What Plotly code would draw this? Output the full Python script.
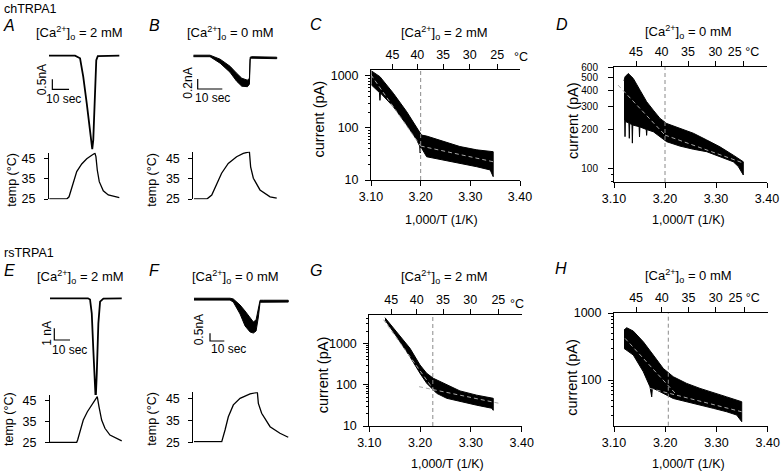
import plotly.graph_objects as go

W, H = 783, 471
FONT = "Liberation Sans, Arial, Helvetica, sans-serif"

# ---------------- data ----------------
# chTRPA1, panel A: [Ca2+]o = 2 mM  (time in s, current in nA, temperature in °C)
A_time = [0, 15.6, 18.6, 20.5, 22.6, 24.6, 25.9, 26.5, 27.1, 27.7, 28.3, 29.2, 42.1]
A_current = [0, 0, -0.13, -1.05, -2.38, -3.88, -4.67, -4.22, -2.72, -1.22, -0.22, -0.02, 0]
A_temp_time = [0.2, 10.6, 12.0, 13.0, 14.6, 16.6, 19.6, 22.6, 25.6, 27.5, 28.1, 28.9, 30.1, 32.5, 35.5, 42.1]
A_temp = [25.0, 25.0, 26.1, 28.6, 33.6, 38.6, 42.4, 45.0, 46.7, 47.7, 46.0, 39.4, 33.6, 29.1, 27.0, 25.7]

# chTRPA1, panel B: [Ca2+]o = 0 mM (noisy trace: upper / lower envelope)
B_time = [0, 6.8, 10.9, 14.9, 17.6, 19.7, 22.0, 22.8, 23.1, 23.7, 33.9]
B_current_hi = [0.01, 0.01, -0.07, -0.21, -0.35, -0.45, -0.49, -0.45, -0.03, -0.02, -0.03]
B_current_lo = [-0.02, -0.02, -0.15, -0.33, -0.51, -0.61, -0.62, -0.57, -0.07, -0.05, -0.06]
B_temp_time = [0.3, 5.5, 7.5, 9.5, 11.5, 14.2, 17.6, 20.3, 22.8, 23.3, 24.4, 27.1, 31.2, 33.9]
B_temp = [25.0, 25.0, 27.0, 32.0, 37.8, 42.7, 46.0, 47.7, 48.4, 41.0, 35.3, 29.5, 26.1, 25.4]

# rsTRPA1, panel E: [Ca2+]o = 2 mM
E_time = [0, 24.2, 25.5, 26.6, 27.6, 28.5, 29.1, 29.8, 30.8, 31.9, 34.0, 45.7]
E_current = [0, 0, -0.10, -1.28, -4.42, -7.84, -8.69, -6.41, -2.14, -0.29, -0.03, 0]
E_temp_time = [0, 17.0, 17.6, 19.1, 21.2, 23.8, 26.6, 29.1, 30.1, 31.2, 32.9, 35.0, 38.2, 45.7]
E_temp = [25.2, 25.2, 26.3, 30.2, 35.7, 39.6, 42.5, 45.5, 46.7, 42.0, 35.7, 31.8, 28.6, 25.9]

# rsTRPA1, panel F: [Ca2+]o = 0 mM
F_time = [0, 25.2, 27.5, 32.2, 35.7, 39.2, 41.5, 43.4, 45.0, 46.2, 48.5, 65.9]
F_current_hi = [0.05, 0.05, 0, -0.39, -0.78, -1.23, -1.49, -1.36, -0.71, -0.08, -0.08, -0.08]
F_current_lo = [-0.07, -0.07, -0.20, -0.97, -1.75, -2.14, -2.21, -2.08, -1.17, -0.21, -0.20, -0.20]
F_temp_time = [0, 19.4, 21.7, 24.0, 27.5, 32.2, 39.2, 44.3, 45.0, 47.3, 53.2, 60.1, 65.9]
F_temp = [25.3, 25.3, 30.6, 36.6, 42.0, 45.0, 47.0, 47.7, 42.7, 38.2, 32.1, 29.1, 27.3]

# Scale bars: (seconds, nA)
A_scale = (10, 0.5)
B_scale = (10, 0.2)
E_scale = (10, 1.0)
F_scale = (10, 0.5)

# Arrhenius plots: 1,000/T (1/K) vs current (pA); band = noisy-trace envelope
C_x_hi = [3.101, 3.118, 3.145, 3.172, 3.195, 3.202, 3.212, 3.246, 3.279, 3.313, 3.346]
C_hi = [1250, 970, 465, 205, 92, 73, 70, 55, 44, 38, 35]
C_x_lo = [3.101, 3.117, 3.118, 3.119, 3.145, 3.172, 3.192, 3.198, 3.199, 3.200, 3.212, 3.246, 3.279, 3.313, 3.340, 3.346]
C_lo = [670, 480, 340, 470, 257, 114, 59, 45, 33, 44, 28, 24, 21, 18, 15.6, 11.6]
C_fit_steep = ([3.10, 3.20], [1050, 45])
C_fit_shallow = ([3.20, 3.35], [45, 22])
C_break = 3.20

D_x_hi = [3.1196, 3.1216, 3.128, 3.1378, 3.151, 3.1641, 3.1771, 3.1902, 3.2033, 3.2294, 3.2555, 3.2818, 3.3078, 3.3339, 3.3535]
D_hi = [470, 506, 537, 492, 400, 326, 281, 243, 222, 204, 187, 166, 147, 127, 113]
D_x_lo = [3.1196, 3.1210, 3.1216, 3.1222, 3.1292, 3.1300, 3.1308, 3.1352, 3.1360, 3.1368, 3.1492, 3.1500,
          3.1508, 3.1632, 3.1640, 3.1648, 3.1771, 3.2033, 3.2294, 3.2555, 3.2818, 3.3078, 3.3339, 3.3437, 3.3535]
D_lo = [235, 233, 176, 230, 224, 171, 222, 218, 157, 216, 210, 175, 209, 200, 180, 199, 192, 161, 149, 141,
        135, 124, 113, 104, 89.5]
D_fit_steep = ([3.108, 3.20], [437, 181])
D_fit_shallow = ([3.20, 3.355], [181, 110])
D_break = 3.20

G_x_hi = [3.1309, 3.1539, 3.1801, 3.1998, 3.2130, 3.226, 3.2524, 3.2785, 3.3114, 3.344]
G_hi = [4250, 1950, 770, 303, 190, 144, 99, 71, 56, 47]
G_x_lo = [3.1309, 3.1539, 3.1801, 3.1998, 3.2130, 3.2327, 3.2524, 3.2785, 3.3114, 3.341, 3.344]
G_lo = [3740, 1470, 480, 190, 109, 62, 47, 39, 32, 27, 24]
G_fit_steep = ([3.128, 3.228], [3800, 72])
G_fit_shallow = ([3.198, 3.358], [90, 35])
G_break = 3.225

H_x_hi = [3.1195, 3.1248, 3.1377, 3.1572, 3.1767, 3.1962, 3.2157, 3.2419, 3.2679, 3.2938, 3.3200, 3.3493]
H_hi = [557, 604, 538, 373, 236, 149, 112, 89, 75, 65.5, 56, 47.4]
H_x_lo = [3.1195, 3.1377, 3.1572, 3.1703, 3.1736, 3.1750, 3.1898, 3.2157, 3.2419, 3.2679, 3.2938, 3.3200, 3.3395, 3.3493]
H_lo = [297, 236, 133, 79, 56, 76, 67, 53, 47, 42, 37.8, 33.6, 30, 23.9]
H_fit_steep = ([3.1215, 3.219], [419, 64])
H_fit_shallow = ([3.170, 3.349], [75, 33.6])
H_break = 3.206

X_TICKS = [3.10, 3.20, 3.30, 3.40]
X_TICK_LABELS = ["3.10", "3.20", "3.30", "3.40"]
TOP_TEMPS = [45, 40, 35, 30, 25]
TOP_TEMP_LABELS = ["45", "40", "35", "30", "25"]
TEMP_TICKS = [25, 35, 45]

# ---------------- figure construction ----------------
fig = go.Figure()
layout = {}
shapes = []
annotations = []
counter = {"x": 0, "y": 0}


def new_axis(kind):
    counter[kind] += 1
    n = counter[kind]
    return (f"{kind}axis" if n == 1 else f"{kind}axis{n}"), (kind if n == 1 else f"{kind}{n}")


def dom_x(a, b):
    return [a / W, b / W]


def dom_y(top, bottom):
    return [1 - bottom / H, 1 - top / H]


def tfont(size=12.5):
    return dict(family=FONT, size=size, color="black")


def note(text, x, y, size=12.5, angle=0, xanchor="center", italic=False):
    if italic:
        text = f"<i>{text}</i>"
    annotations.append(dict(text=text, x=x / W, y=1 - y / H, xref="paper", yref="paper",
                            showarrow=False, textangle=angle, xanchor=xanchor, yanchor="middle",
                            font=tfont(size)))


AX = dict(showline=True, linecolor="black", linewidth=1, showgrid=False, zeroline=False,
          ticks="outside", tickcolor="black", tickwidth=1, fixedrange=True, automargin=False)


def arrhenius(xpx, ypx, yrange, ytickvals, yminor, hx, hy, lx, ly, fits, brk, unit_in_tick,
              ysize=12.5, ystandoff=4):
    xb_name, xb = new_axis("x")
    xt_name, xt = new_axis("x")
    y_name, y = new_axis("y")
    top_text = list(TOP_TEMP_LABELS)
    if unit_in_tick:
        top_text[-1] = top_text[-1] + " °C"
    layout[xb_name] = dict(AX, domain=dom_x(*xpx), range=[3.10, 3.40], anchor=y, tickmode="array",
                           tickvals=X_TICKS, ticktext=X_TICK_LABELS, ticklen=5, tickfont=tfont())
    layout[xt_name] = dict(AX, overlaying=xb, side="top", anchor=y, range=[3.10, 3.40], tickmode="array",
                           tickvals=[1000 / (t + 273.15) for t in TOP_TEMPS], ticktext=top_text,
                           ticklen=5, tickfont=tfont())
    layout[y_name] = dict(AX, domain=dom_y(*ypx), type="log", range=yrange, anchor=xb, tickmode="array",
                          tickvals=ytickvals, ticktext=[str(v) for v in ytickvals], ticklen=5,
                          tickfont=tfont(ysize), ticklabelstandoff=ystandoff,
                          minor=dict(tickmode="array", tickvals=yminor, ticks="outside", ticklen=2.5,
                                     tickcolor="black"))
    fig.add_trace(go.Scatter(x=hx + lx[::-1], y=hy + ly[::-1], mode="lines", fill="toself",
                             fillcolor="black", line=dict(color="black", width=1),
                             xaxis=xb, yaxis=y, hoverinfo="skip"))
    for fx, fy in fits:
        fig.add_trace(go.Scatter(x=fx, y=fy, mode="lines",
                                 line=dict(color="#a8a8a8", width=1, dash="4px,3px"),
                                 xaxis=xt, yaxis=y, hoverinfo="skip"))
    shapes.append(dict(type="line", xref=xb, yref=f"{y} domain", x0=brk, x1=brk, y0=0, y1=1,
                       line=dict(color="#8a8a8a", width=1, dash="4px,3px")))


def trace_panel(xpx, trange, cur_ypx, cur_range, temp_ypx, temp_range, cur, temp_t, temp_v,
                scale, bar_origin, width=1.8):
    xc_name, xc = new_axis("x")
    yc_name, yc = new_axis("y")
    layout[xc_name] = dict(domain=dom_x(*xpx), range=trange, anchor=yc, visible=False, fixedrange=True)
    layout[yc_name] = dict(domain=dom_y(*cur_ypx), range=cur_range, anchor=xc, visible=False,
                           fixedrange=True)
    xT_name, xT = new_axis("x")
    yT_name, yT = new_axis("y")
    layout[xT_name] = dict(domain=dom_x(*xpx), range=trange, anchor=yT, visible=False, fixedrange=True)
    layout[yT_name] = dict(AX, domain=dom_y(*temp_ypx), range=temp_range, anchor=xT, tickmode="array",
                           tickvals=TEMP_TICKS, ticklen=4, tickfont=tfont(12.5), ticklabelstandoff=6)
    if len(cur) == 2:
        t, i = cur
        fig.add_trace(go.Scatter(x=t, y=i, mode="lines", line=dict(color="black", width=width),
                                 xaxis=xc, yaxis=yc, hoverinfo="skip"))
    else:
        t, hi, lo = cur
        fig.add_trace(go.Scatter(x=t + t[::-1], y=hi + lo[::-1], mode="lines", fill="toself",
                                 fillcolor="black", line=dict(color="black", width=1),
                                 xaxis=xc, yaxis=yc, hoverinfo="skip"))
    t0, i0 = bar_origin
    ds, dn = scale
    fig.add_trace(go.Scatter(x=[t0, t0, t0 + ds], y=[i0 + dn, i0, i0], mode="lines",
                             line=dict(color="black", width=1.2), xaxis=xc, yaxis=yc, hoverinfo="skip"))
    fig.add_trace(go.Scatter(x=temp_t, y=temp_v, mode="lines", line=dict(color="black", width=1.3),
                             xaxis=xT, yaxis=yT, hoverinfo="skip"))


# Left trace panels
trace_panel((49, 121), [0, 43.11], (50, 152), [-4.815, 0.285], (152.7, 199.3), [24.85, 47.98],
            (A_time, A_current), A_temp_time, A_temp, A_scale, (2.0, -1.68))
trace_panel((193.3, 278.2), [0, 34.5], (50, 95), [-0.786, 0.114], (151.7, 199.3), [24.85, 48.5],
            (B_time, B_current_hi, B_current_lo), B_temp_time, B_temp, B_scale, (1.79, -0.666))
trace_panel((50, 122), [0, 45.86], (293, 402), [-8.863, 0.453], (395, 443.3), [24.72, 47.5],
            (E_time, E_current), E_temp_time, E_temp, E_scale, (2.74, -3.564))
trace_panel((193.3, 290), [-0.5, 67.13], (294, 345), [-2.987, 0.325], (392.2, 442.7), [24.82, 47.77],
            (F_time, F_current_hi, F_current_lo), F_temp_time, F_temp, F_scale, (11.19, -2.727))

# Arrhenius panels
minor_C = [20, 30, 40, 50, 60, 70, 80, 90, 200, 300, 400, 500, 600, 700, 800, 900]
arrhenius((371, 520), (70, 180), [1, 3.115], [10, 100, 1000], minor_C,
          C_x_hi, C_hi, C_x_lo, C_lo, [C_fit_steep, C_fit_shallow], C_break, False)
arrhenius((614, 767), (67, 182), [1.898, 2.7795], [100, 200, 300, 400, 500, 600], [80, 90],
          D_x_hi, D_hi, D_x_lo, D_lo, [D_fit_steep, D_fit_shallow], D_break, True, 10, 8)
minor_G = minor_C + [2000, 3000, 4000, 5000]
arrhenius((369.3, 521.7), (315, 426), [1, 3.694], [10, 100, 1000], minor_G,
          G_x_hi, G_hi, G_x_lo, G_lo, [G_fit_steep, G_fit_shallow], G_break, False)
minor_H = [30, 40, 50, 60, 70, 80, 90, 200, 300, 400, 500, 600, 700, 800, 900]
arrhenius((614, 767.7), (313, 425.7), [1.318, 3.001], [100, 1000], minor_H,
          H_x_hi, H_hi, H_x_lo, H_lo, [H_fit_steep, H_fit_shallow], H_break, True)

# ---------------- text ----------------
note("chTRPA1", 2, 9, 12.5, xanchor="left")
note("rsTRPA1", 2, 253, 12.5, xanchor="left")
for letter, x, y in [("A", 1, 26), ("B", 147, 26), ("C", 308, 25), ("D", 554, 25),
                     ("E", 2, 270), ("F", 147, 270), ("G", 308, 270), ("H", 553, 268)]:
    note(letter, x, y, 16, xanchor="left", italic=True)

CA2 = "[Ca<sup>2+</sup>]<sub>o</sub> = 2 mM"
CA0 = "[Ca<sup>2+</sup>]<sub>o</sub> = 0 mM"
for txt, x, y in [(CA2, 79, 33), (CA0, 230.5, 33), (CA2, 444, 33), (CA0, 688, 32),
                  (CA2, 80, 277), (CA0, 235, 277), (CA2, 445, 277), (CA0, 688, 276)]:
    note(txt, x, y, 13)

for x, y in [(318.5, 119), (573, 121), (323.3, 375), (571.7, 377)]:
    note("current (pA)", x, y, 14.5, angle=-90)
for x, y in [(441, 220), (688, 220), (447, 464), (688, 464)]:
    note("1,000/T (1/K)", x, y, 12.5)
for x, y in [(511.7, 57), (508, 304)]:
    note("°C", x, y, 12.5, xanchor="left")
for x, y in [(11.7, 180), (151.7, 180), (9, 419), (151.7, 419)]:
    note("temp (°C)", x, y, 12.5, angle=-90)

for txt, x, y in [("0.5nA", 42.3, 80), ("0.2nA", 187.7, 83), ("1 nA", 46.7, 333), ("0.5nA", 199.3, 330)]:
    note(txt, x, y, 12, angle=-90)
for x, y in [(63, 99), (212.5, 98), (69.5, 350), (228, 349.3)]:
    note("10 sec", x, y, 12)

layout.update(dict(width=W, height=H, margin=dict(l=0, r=0, t=0, b=0, pad=0, autoexpand=False),
                   showlegend=False, plot_bgcolor="white", paper_bgcolor="white", shapes=shapes,
                   annotations=annotations, font=tfont()))
fig.update_layout(**layout)
fig.write_html("out.html", config={"displayModeBar": False, "staticPlot": True},
               post_script="document.body.style.margin='0';document.body.style.padding='0';")
